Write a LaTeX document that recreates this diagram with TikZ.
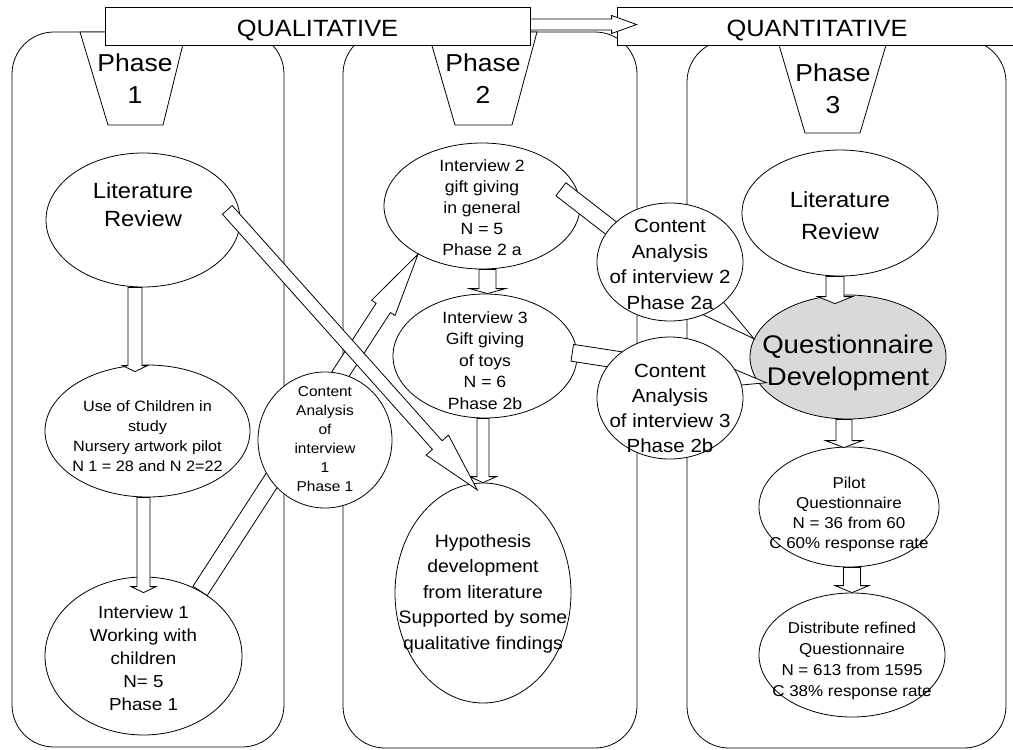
\documentclass[tikz,border=0pt]{standalone}
\usepackage{fontspec}
\setmainfont{Liberation Sans}[FakeStretch=1.08]
\usepackage{tikz}
\usetikzlibrary{shapes.geometric,calc}

\newcommand\fsz[2]{\fontsize{#1}{#2}\selectfont}
% centred text of a bubble, of no size, so the bubble keeps its own size
\newcommand\btext[2][0pt]{\makebox[0pt]{\smash{\raisebox{\dimexpr(\depth-\height)/2+#1\relax}{\begin{tabular}{@{}c@{}}#2\end{tabular}}}}}
% block arrow: from, to, half shaft, half head, head length
\newcommand\blockarrow[5]{%
  \path (#1) coordinate (ba-s) (#2) coordinate (ba-e);
  \path ($(ba-e)!#5!(ba-s)$) coordinate (ba-h);
  \draw[fill=white] ($(ba-s)!#3!90:(ba-e)$) -- ($(ba-h)!#3!90:(ba-e)$)
    -- ($(ba-h)!#4!90:(ba-e)$) -- (ba-e) -- ($(ba-h)!#4!-90:(ba-e)$)
    -- ($(ba-h)!#3!-90:(ba-e)$) -- ($(ba-s)!#3!-90:(ba-e)$) -- cycle;}

\begin{document}
\begin{tikzpicture}[x=1pt,y=-1pt,line width=0.8pt,
    bubble/.style={draw,ellipse,fill=white,inner sep=0pt},
    banner/.style={draw,fill=white,minimum height=38pt,inner sep=0pt,text height=25pt,font=\fsz{23.5}{28}},
    phasetxt/.style={align=center,inner sep=0pt,font=\fsz{24.5}{32}},
    panel/.style={draw,rounded corners=42pt}]
  \useasboundingbox (0,0) rectangle (1013,750);
  % panels and phase tabs
  \draw[panel] (12,32) rectangle (284,747);
  \draw[panel] (343,32) rectangle (637,748);
  \draw[panel] (687,40) rectangle (1006,748);
  \draw[fill=white] (80,32) -- (186,32) -- (163,125) -- (108,125) -- cycle;
  \draw[fill=white] (428,32) -- (537,32) -- (512,125) -- (455,125) -- cycle;
  \draw[fill=white] (779,45) -- (886,45) -- (860,133) -- (805,133) -- cycle;
  \node[phasetxt] (ph1) at (135,79) {Phase\\1};
  \node[phasetxt] (ph2) at (483,79) {Phase\\2};
  \node[phasetxt] (ph3) at (833,89) {Phase\\3};
  % banners
  \node[banner,minimum width=425pt] (qual) at (317.5,26) {QUALITATIVE};
  \begin{scope}
    \clip (0,0) rectangle (1013,750);
    \node[banner,minimum width=400pt] (quant) at (817,26) {QUANTITATIVE};
  \end{scope}
  % phase 1
  \node[bubble,minimum width=194pt,minimum height=134pt,font=\fsz{22}{28}] (lit1) at (143,220) {\btext[13pt]{Literature\\Review}};
  \node[bubble,minimum width=205pt,minimum height=132pt,font=\fsz{15}{20}] (use) at (147.5,431) {\btext[-6pt]{Use of Children in\\study\\Nursery artwork pilot\\N 1 = 28 and N 2=22}};
  \node[bubble,minimum width=197pt,minimum height=158pt,font=\fsz{17.4}{23}] (int1) at (143.5,656) {\btext[-4pt]{Interview 1\\Working with\\children\\N= 5\\Phase 1}};
  % phase 2
  \node[bubble,minimum width=196pt,minimum height=126pt,font=\fsz{16.3}{21}] (int2) at (482,206) {\btext[-3pt]{Interview 2\\gift giving\\in general\\N = 5\\Phase 2 a}};
  \node[bubble,minimum width=184pt,minimum height=124pt,font=\fsz{16.3}{21.5}] (int3) at (485,356) {\btext[-6pt]{Interview 3\\Gift giving\\of toys\\N = 6\\Phase 2b}};
  \node[bubble,minimum width=176pt,minimum height=220pt,font=\fsz{18}{25.5}] (hyp) at (483,593) {\btext{Hypothesis\\development\\from literature\\Supported by some\\qualitative findings}};
  % phase 3
  \node[bubble,minimum width=196pt,minimum height=126pt,font=\fsz{22}{32}] (lit3) at (840,213) {\btext[-4pt]{Literature\\Review}};
  \node[bubble,minimum width=196pt,minimum height=124pt,fill=black!15,font=\fsz{25.5}{32}] (qd) at (848,357) {\btext[-6pt]{Questionnaire\\Development}};
  \node[bubble,minimum width=180pt,minimum height=120pt,font=\fsz{15.7}{20}] (pilot) at (849,507) {\btext[-7pt]{Pilot\\Questionnaire\\N = 36 from 60\\C 60\% response rate}};
  \node[bubble,minimum width=186pt,minimum height=124pt,font=\fsz{15.7}{21}] (dist) at (852,655) {\btext[-6pt]{Distribute refined\\Questionnaire\\N = 613 from 1595\\C 38\% response rate}};
  % block arrows
  \blockarrow{[xshift=-8pt]lit1.south}{[xshift=-12.5pt,yshift=-7pt]use.north}{7pt}{12.5pt}{6pt}
  \blockarrow{[xshift=-4pt]use.south}{[yshift=-16pt]int1.north}{6.5pt}{12.5pt}{6pt}
  \blockarrow{[xshift=5.5pt]int2.south}{[xshift=2.5pt]int3.north}{8.5pt}{18pt}{5pt}
  \blockarrow{[xshift=-2pt]int3.south}{hyp.north}{6pt}{13.5pt}{6pt}
  \blockarrow{[xshift=-5pt]lit3.south}{[xshift=-13pt,yshift=-9pt]qd.north}{9pt}{17.5pt}{7pt}
  \blockarrow{[xshift=-4pt]qd.south}{[xshift=-5pt,yshift=-1pt]pilot.north}{8pt}{18.5pt}{7pt}
  \blockarrow{[xshift=3pt]pilot.south}{dist.north}{8.5pt}{17pt}{7pt}
  \blockarrow{int1.49}{int2.217}{8.5pt}{14pt}{64pt}
  \blockarrow{[xshift=-12pt]lit1.6}{[yshift=-7pt]hyp.93}{6.5pt}{15pt}{60pt}
  \blockarrow{[xshift=-16pt]int2.10}{qd.169}{8.2pt}{17pt}{77pt}
  \blockarrow{[xshift=-5pt]int3.2}{[xshift=8pt]qd.196}{8.5pt}{17pt}{68pt}
  % content analysis, over the arrows
  \node[bubble,minimum width=134pt,minimum height=136pt,font=\fsz{14.3}{19}] (ca1) at (325,440) {\btext{Content\\Analysis\\of\\interview\\1\\Phase 1}};
  \node[bubble,minimum width=146pt,minimum height=118pt,font=\fsz{19}{25.5}] (ca2) at (670,262) {\btext[-4pt]{Content\\Analysis\\of interview 2\\Phase 2a}};
  \node[bubble,minimum width=146pt,minimum height=122pt,font=\fsz{19}{25}] (ca3) at (670,398) {\btext[-12pt]{Content\\Analysis\\of interview 3\\Phase 2b}};
  % qualitative leads to quantitative
  \coordinate (qtip) at ([xshift=20pt,yshift=1.5pt]quant.west);
  \blockarrow{[yshift=1.5pt]qual.east}{qtip}{5.5pt}{9pt}{25pt}
\end{tikzpicture}
\end{document}
